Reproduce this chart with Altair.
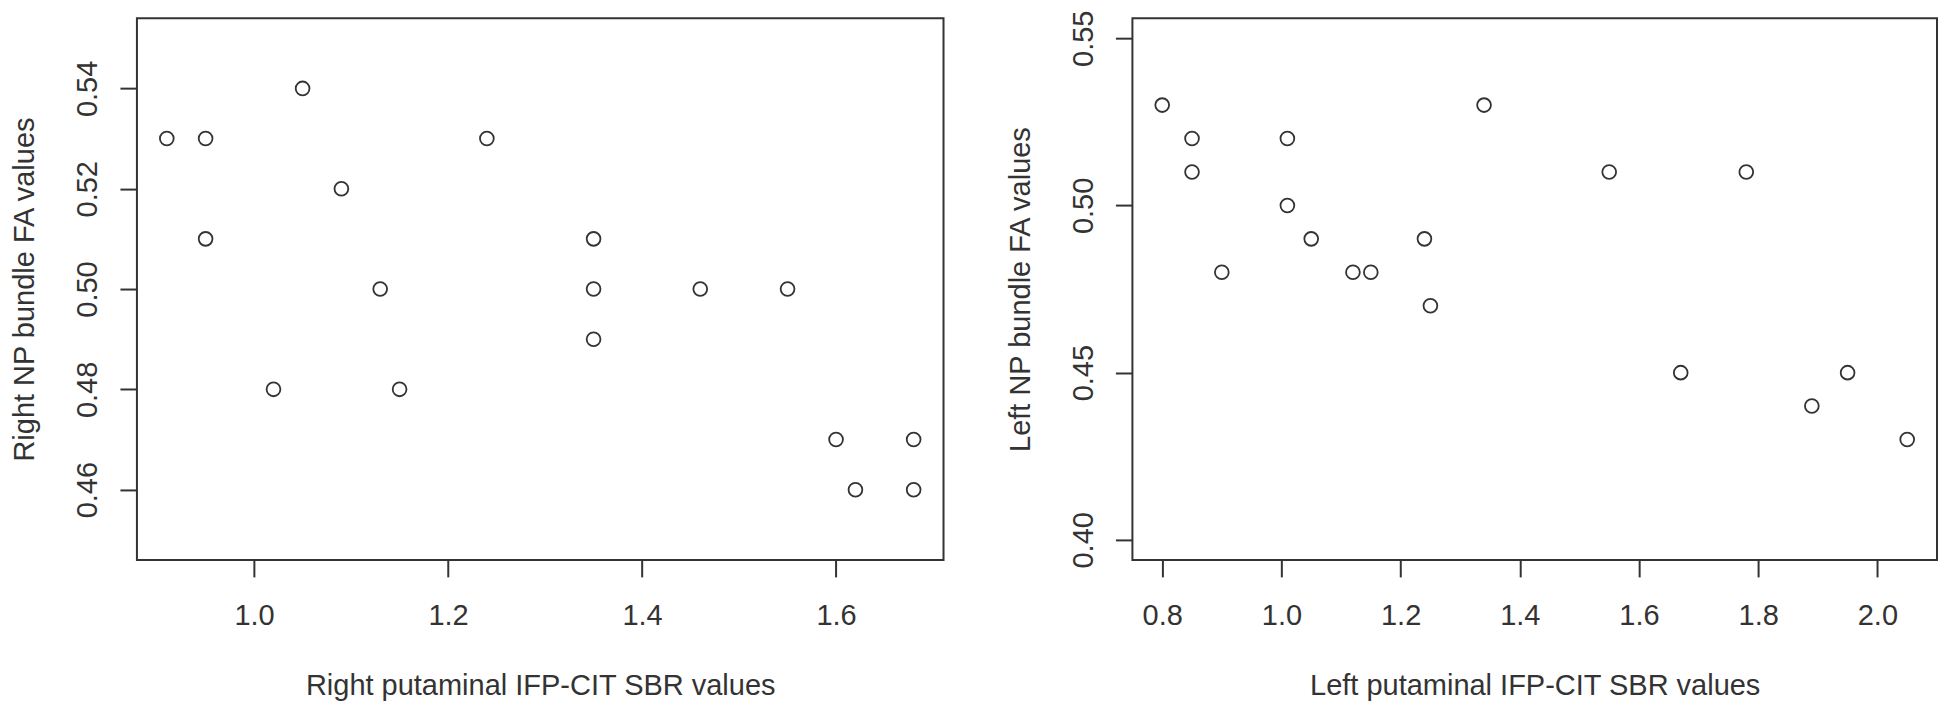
import altair as alt
import pandas as pd

# Left panel: right hemisphere
right_sbr = [0.91, 0.95, 0.95, 1.05, 1.09, 1.02, 1.13, 1.15, 1.24,
             1.35, 1.35, 1.35, 1.46, 1.55, 1.60, 1.62, 1.68, 1.68]
right_fa = [0.53, 0.53, 0.51, 0.54, 0.52, 0.48, 0.50, 0.48, 0.53,
            0.51, 0.50, 0.49, 0.50, 0.50, 0.47, 0.46, 0.47, 0.46]

# Right panel: left hemisphere
left_sbr = [0.80, 0.85, 0.85, 0.90, 1.01, 1.01, 1.05, 1.12, 1.15,
            1.24, 1.25, 1.34, 1.55, 1.67, 1.78, 1.89, 1.95, 2.05]
left_fa = [0.53, 0.52, 0.51, 0.48, 0.52, 0.50, 0.49, 0.48, 0.48,
           0.49, 0.47, 0.53, 0.51, 0.45, 0.51, 0.44, 0.45, 0.43]

right_x_ticks = [1.0, 1.2, 1.4, 1.6]
right_y_ticks = [0.46, 0.48, 0.50, 0.52, 0.54]
left_x_ticks = [0.8, 1.0, 1.2, 1.4, 1.6, 1.8, 2.0]
left_y_ticks = [0.40, 0.45, 0.50, 0.55]

right_x_title = "Right putaminal IFP-CIT SBR values"
right_y_title = "Right NP bundle FA values"
left_x_title = "Left putaminal IFP-CIT SBR values"
left_y_title = "Left NP bundle FA values"

FONT = "Liberation Sans"
FS = 29
INK = "#333333"


def expand(lo, hi):
    pad = 0.04 * (hi - lo)
    return [lo - pad, hi + pad]


def panel(sbr, fa, xlim, ylim, xticks, yticks, xtitle, ytitle, w, h):
    df = pd.DataFrame({"sbr": sbr, "fa": fa})
    common = dict(
        grid=False, domain=False, tickSize=17, tickWidth=2, tickColor=INK,
        labelFont=FONT, labelFontSize=FS, labelColor=INK,
        labelFlush=False, labelOverlap=False,
        titleFont=FONT, titleFontSize=FS, titleColor=INK,
        titleFontWeight="normal",
    )
    x_axis = alt.Axis(
        values=xticks, format=".1f", title=xtitle,
        labelAngle=0, labelAlign="center", labelBaseline="alphabetic",
        labelPadding=48,
        titleX=w / 2, titleY=135, titleAlign="center",
        titleBaseline="alphabetic", **common,
    )
    y_axis = alt.Axis(
        values=yticks, format=".2f", title=ytitle,
        labelAngle=270, labelAlign="center", labelBaseline="alphabetic",
        labelPadding=23,
        titleAngle=270, titleX=-103, titleY=h / 2, titleAlign="center",
        titleBaseline="alphabetic", **common,
    )
    return alt.Chart(df).mark_point(
        shape="circle", filled=False, size=190, strokeWidth=1.8,
        color=INK, opacity=1,
    ).encode(
        x=alt.X("sbr:Q", scale=alt.Scale(domain=expand(*xlim), nice=False, zero=False), axis=x_axis),
        y=alt.Y("fa:Q", scale=alt.Scale(domain=expand(*ylim), nice=False, zero=False), axis=y_axis),
    ).properties(width=w, height=h)


left_panel = panel(right_sbr, right_fa, (0.91, 1.68), (0.45, 0.55),
                   right_x_ticks, right_y_ticks, right_x_title, right_y_title, 807, 542)
right_panel = panel(left_sbr, left_fa, (0.80, 2.05), (0.40, 0.55),
                    left_x_ticks, left_y_ticks, left_x_title, left_y_title, 805, 542)

chart = alt.hconcat(left_panel, right_panel, spacing=61).properties(
    padding={"left": 2, "top": 0, "right": 0, "bottom": 0},
    background="white",
).configure_view(
    stroke=INK, strokeWidth=2,
)

chart.save("out.html", embed_options={"renderer": "svg", "actions": False})
